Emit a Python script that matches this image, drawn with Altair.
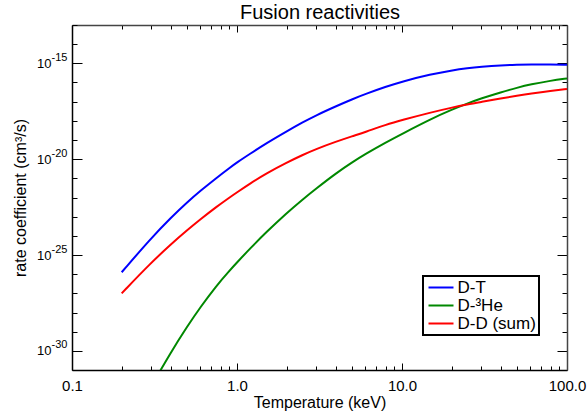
import altair as alt
import pandas as pd

FONT = "Liberation Sans"

# Temperatures (keV) and log10 of reactivity (cm^3/s)
TEMPS = [0.2, 0.3, 0.4, 0.5, 0.6, 0.75, 0.9, 1.0, 1.2, 1.5, 2.0, 2.5, 3.0, 4.0, 5.0,
         6.0, 8.0, 10, 15, 20, 25, 30, 40, 50, 60, 80, 100]
DT_LOG = [-25.9, -24.14, -23.03, -22.24, -21.65, -20.98, -20.46, -20.17, -19.72, -19.18,
          -18.55, -18.08, -17.72, -17.23, -16.87, -16.6, -16.22, -15.95, -15.57, -15.37,
          -15.25, -15.18, -15.1, -15.07, -15.06, -15.06, -15.07]
DD_LOG = [-27.0, -25.42, -24.42, -23.70, -23.14, -22.49, -22.0, -21.73, -21.27, -20.75,
          -20.18, -19.78, -19.48, -19.08, -18.8, -18.58, -18.2, -17.96, -17.56, -17.31,
          -17.14, -17.02, -16.83, -16.69, -16.58, -16.44, -16.34]
TEMPS_HE = [0.3, 0.4, 0.5, 0.6, 0.75, 0.9, 1.0, 1.2, 1.5, 2.0, 2.5, 3.0, 4.0, 5.0,
            6.0, 8.0, 10, 15, 20, 25, 30, 40, 50, 60, 80, 100]
DHE_LOG = [-31.9, -30.03, -28.72, -27.72, -26.6, -25.82, -25.39, -24.66, -23.82, -22.81,
           -22.1, -21.55, -20.72, -20.16, -19.73, -19.12, -18.68, -17.9, -17.42, -17.09,
           -16.84, -16.5, -16.27, -16.1, -15.9, -15.79]

SERIES = ["D-T", "D-³He", "D-D (sum)"]
COLORS = ["#0000ff", "#008800", "#ff0000"]
TITLE = "Fusion reactivities"

X_MAJOR = [0.1, 1.0, 10.0, 100.0]
X_TICKS = [0.1, 0.2, 0.3, 0.4, 0.5, 0.6, 0.7, 0.8, 0.9,
           1, 2, 3, 4, 5, 6, 7, 8, 9,
           10, 20, 30, 40, 50, 60, 70, 80, 90, 100]
Y_MAJOR = [1e-30, 1e-25, 1e-20, 1e-15]
Y_TICKS = [1e-31, 1e-30, 1e-29, 1e-28, 1e-27, 1e-26, 1e-25, 1e-24, 1e-23, 1e-22,
           1e-21, 1e-20, 1e-19, 1e-18, 1e-17, 1e-16, 1e-15, 1e-14, 1e-13]

rows = []
for t, v in zip(TEMPS, DT_LOG):
    rows.append({"T": t, "logv": v, "reaction": SERIES[0]})
for t, v in zip(TEMPS_HE, DHE_LOG):
    rows.append({"T": t, "logv": v, "reaction": SERIES[1]})
for t, v in zip(TEMPS, DD_LOG):
    rows.append({"T": t, "logv": v, "reaction": SERIES[2]})
df = pd.DataFrame(rows)

W, H = 495, 345


def xs():
    return alt.Scale(type="log", domain=[0.1, 100])


def ys():
    return alt.Scale(type="log", domain=[1e-31, 1e-13])


X_MAJOR_TEST = "abs(log(datum.value)/LN10 - round(log(datum.value)/LN10)) < 0.01"
Y_MAJOR_TEST = "abs(round(log(datum.value)/LN10) % 5) == 0"
x_tick_size = {"condition": {"test": X_MAJOR_TEST, "value": 7}, "value": 4}
y_tick_size = {"condition": {"test": Y_MAJOR_TEST, "value": 10}, "value": 5}

base = alt.Chart(df).transform_calculate(v="pow(10, datum.logv)")

# Layer 1: the curves, bottom labels, left "10" labels, titles, legend
lines = base.mark_line(strokeWidth=2, clip=True, interpolate="basis").encode(
    x=alt.X("T:Q", scale=xs(), axis=alt.Axis(
        orient="bottom", values=X_MAJOR, format=".1f", ticks=False, domain=False,
        grid=False, labelPadding=8, labelFontSize=15, labelFont=FONT,
        labelColor="black", labelFlush=False, title="Temperature (keV)",
        titleFont=FONT, titleFontSize=16, titleFontWeight="normal",
        titleColor="black", titleY=37, titleBaseline="alphabetic")),
    y=alt.Y("v:Q", scale=ys(), axis=alt.Axis(
        orient="left", values=Y_MAJOR, labelExpr="'10'", ticks=False, domain=False,
        grid=False, labelPadding=21, labelAlign="right", labelBaseline="middle",
        labelFontSize=13, labelFont=FONT, labelColor="black", labelFlush=False,
        title="rate coefficient (cm³/s)", titleFont=FONT, titleFontSize=16,
        titleFontWeight="normal", titleColor="black", titleX=-47, titleY=172.5,
        titleAngle=270, titleBaseline="alphabetic", titleAlign="center")),
    color=alt.Color("reaction:N", sort=SERIES,
                    scale=alt.Scale(domain=SERIES, range=COLORS),
                    legend=alt.Legend(orient="none", legendX=351, legendY=251,
                                      title=None, symbolType="M-2.5,0H2.5",
                                      symbolSize=100, symbolStrokeWidth=2,
                                      symbolOffset=6.5, labelOffset=8,
                                      labelFontSize=17, labelFont=FONT,
                                      labelColor="black", strokeColor="black",
                                      fillColor="white", padding=3, rowPadding=0)),
    detail="reaction:N",
)

# Layer 2: superscript exponents, top-edge inward ticks and the chart title
exp_layer = base.mark_point(opacity=0, size=0).encode(
    x=alt.X("T:Q", scale=xs(), axis=alt.Axis(
        orient="bottom", offset=-H, values=X_TICKS, labels=False,
        tickSize=x_tick_size, tickColor="black", domainColor="#444",
        domainWidth=1.5, grid=False, title=TITLE, titleFont=FONT,
        titleFontSize=20, titleFontWeight="normal", titleColor="black",
        titleY=-7, titleBaseline="alphabetic")),
    y=alt.Y("v:Q", scale=ys(), axis=alt.Axis(
        orient="left", values=Y_MAJOR,
        labelExpr="'' + round(log(datum.value)/LN10)", ticks=False, domain=False,
        grid=False, labelPadding=21, labelAlign="left", labelBaseline="middle",
        labelOffset=-6, labelFontSize=11, labelFont=FONT, labelColor="black",
        labelFlush=False, title=None)),
)

# Layer 3: left-edge and bottom-edge inward ticks
in_left = base.mark_point(opacity=0, size=0).encode(
    x=alt.X("T:Q", scale=xs(), axis=alt.Axis(
        orient="top", offset=-H, values=X_TICKS, labels=False,
        tickSize=x_tick_size, tickColor="black", domainColor="black",
        domainWidth=1.5, grid=False, title=None)),
    y=alt.Y("v:Q", scale=ys(), axis=alt.Axis(
        orient="right", offset=-W, values=Y_TICKS, labels=False,
        tickSize=y_tick_size, tickColor="black", domainColor="black",
        domainWidth=1.5, grid=False, title=None)),
)

# Layer 4: right-edge inward ticks
in_right = base.mark_point(opacity=0, size=0).encode(
    x=alt.X("T:Q", scale=xs(), axis=None),
    y=alt.Y("v:Q", scale=ys(), axis=alt.Axis(
        orient="left", offset=-W, values=Y_TICKS, labels=False,
        tickSize=y_tick_size, tickColor="black", domainColor="#444",
        domainWidth=1.5, grid=False, title=None)),
)

chart = alt.layer(in_left, in_right, exp_layer, lines).resolve_axis(
    x="independent", y="independent"
).properties(
    width=W, height=H,
    autosize=alt.AutoSizeParams(type="none"),
    padding={"left": 72, "top": 25, "right": 20, "bottom": 44},
    background="white",
).configure_view(strokeWidth=0).configure_legend(strokeWidth=2)

chart.save("out.html", embed_options={"renderer": "svg", "actions": False})
